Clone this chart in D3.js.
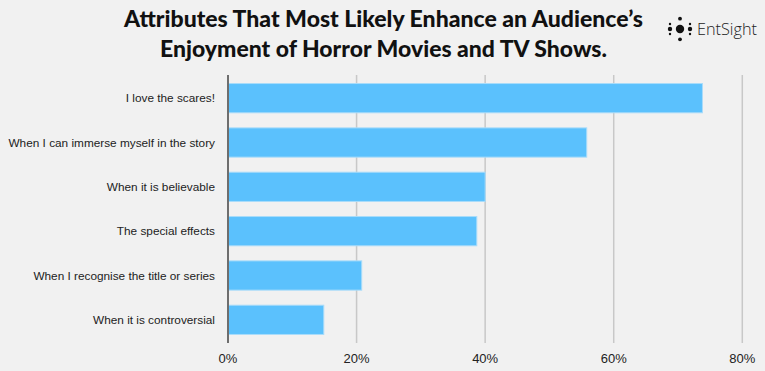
<!DOCTYPE html>
<html>
<head>
<meta charset="utf-8">
<script src="https://cdn.jsdelivr.net/npm/d3@7"></script>
<style>
  body { margin: 0; background: #f1f1f1; }
  svg { display: block; }
</style>
</head>
<body>
<div id="chart"></div>
<script>
const categories = [
    "I love the scares!",
    "When I can immerse myself in the story",
    "When it is believable",
    "The special effects",
    "When I recognise the title or series",
    "When it is controversial"
];
const values = [73.8, 55.8, 40.0, 38.7, 20.8, 14.9];
const ticks = [0, 20, 40, 60, 80];
const titleLines = [
    "Attributes That Most Likely Enhance an Audience\u2019s",
    "Enjoyment of Horror Movies and TV Shows."
];

const width = 765;
const height = 371;
const margin = { top: 75, right: 23, bottom: 28, left: 228 };

const svg = d3.select("#chart")
    .append("svg")
    .attr("width", width)
    .attr("height", height);

svg.append("rect")
    .attr("width", width)
    .attr("height", height)
    .attr("fill", "#f1f1f1");

const xScale = d3.scaleLinear()
    .domain([0, 80])
    .range([margin.left, 742.3]);

const yScale = d3.scaleBand()
    .domain(categories)
    .range([76, 342])
    .paddingInner(0.34)
    .paddingOuter(0.17);

// vertical gridlines
svg.selectAll(".x-gridline")
    .data(ticks.filter(d => d > 0))
    .enter().append("line")
    .attr("class", "x-gridline")
    .attr("x1", d => xScale(d))
    .attr("x2", d => xScale(d))
    .attr("y1", margin.top)
    .attr("y2", 343)
    .attr("stroke", "#c8c8c8")
    .attr("stroke-width", 1.5);

// bars
svg.selectAll(".bar")
    .data(values)
    .enter().append("rect")
    .attr("class", "bar")
    .attr("x", xScale(0))
    .attr("y", (d, i) => yScale(categories[i]))
    .attr("width", d => xScale(d) - xScale(0))
    .attr("height", yScale.bandwidth())
    .attr("fill", "#5bc1fd")
    .attr("stroke", "#a9dcfa")
    .attr("stroke-width", 1);

// zero axis line
svg.append("line")
    .attr("x1", xScale(0))
    .attr("x2", xScale(0))
    .attr("y1", margin.top)
    .attr("y2", 343)
    .attr("stroke", "#6e6e6e")
    .attr("stroke-width", 2);

// category labels
svg.selectAll(".cat-label")
    .data(categories)
    .enter().append("text")
    .attr("class", "cat-label")
    .attr("x", 215)
    .attr("y", d => yScale(d) + yScale.bandwidth() / 2)
    .attr("dy", "0.35em")
    .attr("text-anchor", "end")
    .attr("font-family", "Liberation Sans, Arial, sans-serif")
    .attr("font-size", "11.8px")
    .attr("fill", "#222")
    .text(d => d);

// tick labels
svg.selectAll(".tick-label")
    .data(ticks)
    .enter().append("text")
    .attr("class", "tick-label")
    .attr("x", d => xScale(d))
    .attr("y", 363)
    .attr("text-anchor", "middle")
    .attr("font-family", "Liberation Sans, Arial, sans-serif")
    .attr("font-size", "13px")
    .attr("fill", "#222")
    .text(d => d + "%");

// title
svg.selectAll(".title")
    .data(titleLines)
    .enter().append("text")
    .attr("class", "title")
    .attr("x", 383.5)
    .attr("y", (d, i) => 27 + i * 30)
    .attr("text-anchor", "middle")
    .attr("font-family", "Lato, sans-serif")
    .attr("font-weight", 900)
    .attr("font-size", "22.5px")
    .attr("fill", "#111")
    .attr("textLength", (d, i) => i === 0 ? 519 : 447)
    .attr("lengthAdjust", "spacingAndGlyphs")
    .text(d => d);

// EntSight logo
const logo = svg.append("g").attr("transform", "translate(680,29)");
const dots = [
    [0, 0, 4.2],
    [0, -10.3, 1.9], [0, 10.3, 1.9],
    [-10, 0, 2.2], [10, 0, 2.2],
    [-10, -5, 1.2], [-10, 5, 1.2],
    [10, -5, 1.2], [10, 5, 1.2]
];
logo.selectAll("circle")
    .data(dots)
    .enter().append("circle")
    .attr("cx", d => d[0])
    .attr("cy", d => d[1])
    .attr("r", d => d[2])
    .attr("fill", "#111");

svg.append("text")
    .attr("x", 697)
    .attr("y", 35)
    .attr("font-family", "Open Sans, sans-serif")
    .attr("font-weight", 300)
    .attr("font-size", "16px")
    .attr("fill", "#222")
    .attr("textLength", 60)
    .attr("lengthAdjust", "spacingAndGlyphs")
    .text("EntSight");
</script>
</body>
</html>
